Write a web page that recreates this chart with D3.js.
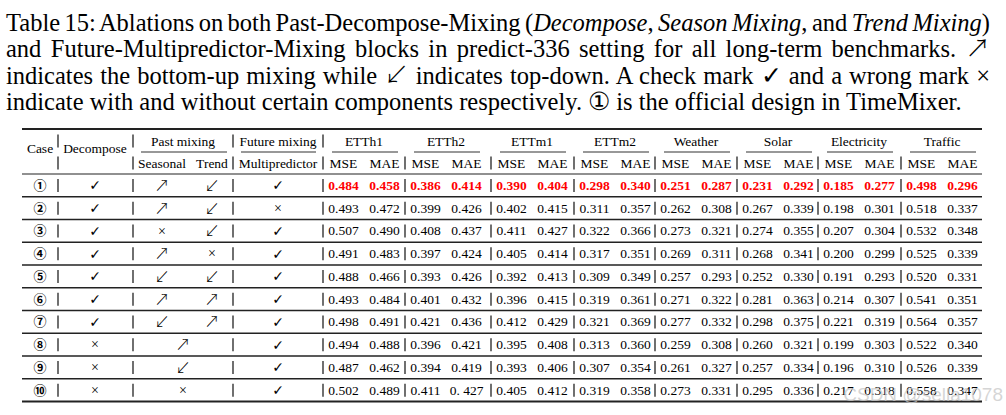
<!DOCTYPE html>
<html><head><meta charset="utf-8">
<script src="https://cdn.jsdelivr.net/npm/d3@7"></script>
<style>body{margin:0;background:#fff} svg{display:block}</style>
</head><body>
<script>
// ---------- data ----------
const captionLines = [
  [["Table 15: Ablations on both Past-Decompose-Mixing (",0],["Decompose",1],[", ",0],["Season Mixing",1],[", and ",0],["Trend Mixing",1],[")",0]],
  [["and Future-Multipredictor-Mixing blocks in predict-336 setting for all long-term benchmarks. ",0],["\u2197",2]],
  [["indicates the bottom-up mixing while ",0],["\u2199",2],[" indicates top-down. A check mark \u2713 and a wrong mark \u00d7",0]],
  [["indicate with and without certain components respectively. \u2460 is the official design in TimeMixer.",0]]
];
const captionJustify = [true, true, true, false];

const leftHeaders = ["Case", "Decompose"];
const groupHeaders = ["Past mixing", "Future mixing"];
const subHeaders = ["Seasonal", "Trend", "Multipredictor"];
const datasets = ["ETTh1","ETTh2","ETTm1","ETTm2","Weather","Solar","Electricity","Traffic"];
const metrics = ["MSE","MAE"];

const cases = ["\u2460","\u2461","\u2462","\u2463","\u2464","\u2465","\u2466","\u2467","\u2468","\u2469"];
const decompose = ["\u2713","\u2713","\u2713","\u2713","\u2713","\u2713","\u2713","\u00d7","\u00d7","\u00d7"];
const seasonal = ["\u2197","\u2197","\u00d7","\u2197","\u2199","\u2197","\u2199",null,null,null];
const trend    = ["\u2199","\u2199","\u2199","\u00d7","\u2199","\u2197","\u2197",null,null,null];
const pastMerged = [null,null,null,null,null,null,null,"\u2197","\u2199","\u00d7"];
const multipredictor = ["\u2713","\u00d7","\u2713","\u2713","\u2713","\u2713","\u2713","\u2713","\u2713","\u2713"];

const ETTh1_MSE = ["0.484","0.493","0.507","0.491","0.488","0.493","0.498","0.494","0.487","0.502"];
const ETTh1_MAE = ["0.458","0.472","0.490","0.483","0.466","0.484","0.491","0.488","0.462","0.489"];
const ETTh2_MSE = ["0.386","0.399","0.408","0.397","0.393","0.401","0.421","0.396","0.394","0.411"];
const ETTh2_MAE = ["0.414","0.426","0.437","0.424","0.426","0.432","0.436","0.421","0.419","0. 427"];
const ETTm1_MSE = ["0.390","0.402","0.411","0.405","0.392","0.396","0.412","0.395","0.393","0.405"];
const ETTm1_MAE = ["0.404","0.415","0.427","0.414","0.413","0.415","0.429","0.408","0.406","0.412"];
const ETTm2_MSE = ["0.298","0.311","0.322","0.317","0.309","0.319","0.321","0.313","0.307","0.319"];
const ETTm2_MAE = ["0.340","0.357","0.366","0.351","0.349","0.361","0.369","0.360","0.354","0.358"];
const Weather_MSE = ["0.251","0.262","0.273","0.269","0.257","0.271","0.277","0.259","0.261","0.273"];
const Weather_MAE = ["0.287","0.308","0.321","0.311","0.293","0.322","0.332","0.308","0.327","0.331"];
const Solar_MSE = ["0.231","0.267","0.274","0.268","0.252","0.281","0.298","0.260","0.257","0.295"];
const Solar_MAE = ["0.292","0.339","0.355","0.341","0.330","0.363","0.375","0.321","0.334","0.336"];
const Electricity_MSE = ["0.185","0.198","0.207","0.200","0.191","0.214","0.221","0.199","0.196","0.217"];
const Electricity_MAE = ["0.277","0.301","0.304","0.299","0.293","0.307","0.319","0.303","0.310","0.318"];
const Traffic_MSE = ["0.498","0.518","0.532","0.525","0.520","0.541","0.564","0.522","0.526","0.558"];
const Traffic_MAE = ["0.296","0.337","0.348","0.339","0.331","0.351","0.357","0.340","0.339","0.347"];
const bestRow = 0;
const watermark = "CSDN @sella1078";

const values = {
  ETTh1:[ETTh1_MSE,ETTh1_MAE], ETTh2:[ETTh2_MSE,ETTh2_MAE], ETTm1:[ETTm1_MSE,ETTm1_MAE], ETTm2:[ETTm2_MSE,ETTm2_MAE],
  Weather:[Weather_MSE,Weather_MAE], Solar:[Solar_MSE,Solar_MAE], Electricity:[Electricity_MSE,Electricity_MAE], Traffic:[Traffic_MSE,Traffic_MAE]
};

// ---------- layout ----------
const W = 1006, H = 415;
const SERIF = "'Liberation Serif','Times New Roman',serif";
const SYM = "'DejaVu Sans','DejaVu Serif',sans-serif";
const ARROW = "'Noto Sans CJK JP','Noto Sans CJK SC',sans-serif";
const CIRC = "'Noto Sans CJK JP','DejaVu Sans',sans-serif";
const svg = d3.select("body").append("svg").attr("width", W).attr("height", H);

// caption
const capX0 = 6, capX1 = 990;
const capY = d3.scaleLinear().domain([0, 3]).range([31, 110]);
captionLines.forEach((segs, i) => {
  const t = svg.append("text").attr("x", capX0).attr("y", capY(i))
    .attr("font-family", SERIF).attr("font-size", 24.5).attr("fill", "#000");
  segs.forEach(([s, it]) => {
    const sp = t.append("tspan").attr("font-style", it === 1 ? "italic" : "normal").text(s);
    if (it === 2) sp.attr("font-family", ARROW).attr("font-weight", 300);
  });
  if (captionJustify[i]) {
    const full = segs.map(d => d[0]).join("");
    const nSp = (full.match(/ /g) || []).length;
    const len = t.node().getComputedTextLength();
    t.attr("word-spacing", (capX1 - capX0 - len) / nSp);
  }
});

// table scales
const tableX0 = 22, tableX1 = 982;
const rowScale = d3.scaleBand().domain(d3.range(cases.length)).range([174, 401.5]);
const leftCol = d3.scaleOrdinal().domain(["Case","Decompose","Seasonal","Trend","Past","Multipredictor"])
  .range([40, 95, 162, 212, 183, 278]);
const groupStart = d3.scaleOrdinal().domain(datasets).range([323, 405, 491, 574, 655, 737, 818, 901]);
const metricOff = d3.scaleOrdinal().domain(metrics).range([20.5, 61.5]);
const groupW = 82;
const fs = 13.5;
const hdr1 = 141, hdr2 = 163, hdrMid = 148, hdrRule = 152;

const g = svg.append("g").attr("font-family", SERIF).attr("font-size", fs).attr("fill", "#000");

function txt(x, y, s, opts = {}) {
  return g.append("text").attr("x", x).attr("y", y).attr("dy", opts.dy || "0.34em").attr("text-anchor", "middle")
    .attr("font-family", opts.ff || SERIF).attr("font-size", opts.size || fs)
    .attr("font-weight", opts.bold ? "bold" : (opts.weight || "normal")).attr("fill", opts.fill || "#000").text(s);
}
function sym(x, y, s) {
  const isArrow = s === "\u2197" || s === "\u2199";
  if (isArrow) return txt(x, y, s, {ff: ARROW, size: 15, weight: 300, dy: "0.36em"});
  if (s === "\u00d7") return txt(x, y, s, {ff: SERIF, size: 14});
  return txt(x, y, s, {ff: SYM, size: 14, weight: "bold", dy: "0.36em"});
}

// horizontal rules
const hRules = [{y:129, w:2}, {y:174, w:1.2}]
  .concat(d3.range(1, cases.length).map(i => ({y: rowScale(i), w: 1.3})))
  .concat([{y:401.5, w:2}]);
g.selectAll("line.h").data(hRules).join("line").attr("class","h")
  .attr("x1", tableX0).attr("x2", tableX1).attr("y1", d => d.y).attr("y2", d => d.y)
  .attr("stroke", "#222").attr("stroke-width", d => d.w);

// partial rules under group headers
const partial = [{x1:141, x2:227}, {x1:241, x2:316}]
  .concat(datasets.map(d => ({x1: groupStart(d) + 9, x2: groupStart(d) + 75})));
g.selectAll("line.p").data(partial).join("line").attr("class","p")
  .attr("x1", d => d.x1).attr("x2", d => d.x2).attr("y1", hdrRule).attr("y2", hdrRule)
  .attr("stroke", "#333").attr("stroke-width", 1.1);

// vertical bars
const leftBars = [58, 133, 233];
const allBars = leftBars.concat(datasets.map(d => groupStart(d)));
function bars(yc, xs) {
  xs.forEach(x => g.append("line").attr("x1", x).attr("x2", x).attr("y1", yc - 6.5).attr("y2", yc + 6.5)
    .attr("stroke", "#333").attr("stroke-width", 1.4));
}
bars(hdr1, leftBars.concat([groupStart(datasets[0])]));
bars(hdr2, allBars);
d3.range(cases.length).forEach(i => bars(rowScale(i) + rowScale.bandwidth() / 2, allBars));

// headers
txt(leftCol("Case"), hdrMid, leftHeaders[0]);
txt(leftCol("Decompose"), hdrMid, leftHeaders[1]);
txt(leftCol("Past"), hdr1, groupHeaders[0]);
txt(leftCol("Multipredictor"), hdr1, groupHeaders[1]);
txt(leftCol("Seasonal"), hdr2, subHeaders[0]);
txt(leftCol("Trend"), hdr2, subHeaders[1]);
txt(leftCol("Multipredictor"), hdr2, subHeaders[2]);
datasets.forEach(d => {
  txt(groupStart(d) + groupW / 2, hdr1, d);
  metrics.forEach(m => txt(groupStart(d) + metricOff(m), hdr2, m));
});

// body
d3.range(cases.length).forEach(i => {
  const yc = rowScale(i) + rowScale.bandwidth() / 2;
  txt(leftCol("Case"), yc, cases[i], {ff: CIRC, size: 13, weight: "bold"});
  sym(leftCol("Decompose"), yc, decompose[i]);
  if (seasonal[i]) sym(leftCol("Seasonal"), yc, seasonal[i]);
  if (trend[i]) sym(leftCol("Trend"), yc, trend[i]);
  if (pastMerged[i]) sym(leftCol("Past"), yc, pastMerged[i]);
  sym(leftCol("Multipredictor"), yc, multipredictor[i]);
  datasets.forEach(d => metrics.forEach((m, k) => {
    const best = i === bestRow;
    txt(groupStart(d) + metricOff(m), yc, values[d][k][i], {bold: best, fill: best ? "#ff0000" : "#000"});
  }));
});

// watermark (semi-transparent, as in the reference)
svg.append("text").attr("x", 1003).attr("y", 401).attr("text-anchor", "end")
  .attr("font-family", "'Liberation Sans',Arial,sans-serif").attr("font-size", 19)
  .attr("fill", "#c8c8c8").attr("fill-opacity", 0.75).text(watermark);
</script>
</body></html>
